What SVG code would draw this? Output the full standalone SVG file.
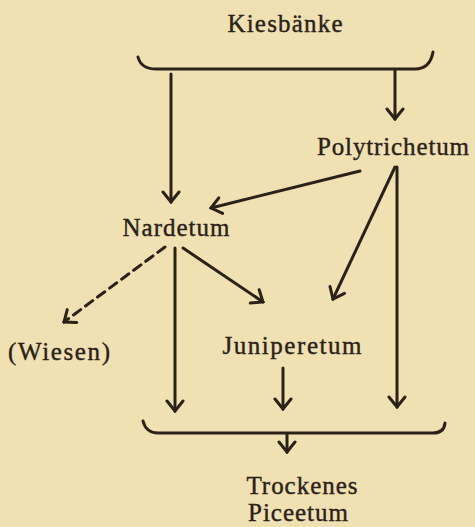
<svg xmlns="http://www.w3.org/2000/svg" width="475" height="527" viewBox="0 0 475 527">
<style>
text{font-family:"Liberation Serif","Times New Roman",serif;font-size:25px;fill:#2a2219;stroke:#2a2219;stroke-width:0.4;text-anchor:middle}
.c{fill:none;stroke:#2a2219;stroke-width:3;stroke-linecap:round}
.d{stroke-dasharray:9,6}
</style>
<defs>
<marker id="ah" viewBox="-12 -10 14 20" markerWidth="14" markerHeight="20" refX="0" refY="0" orient="auto" markerUnits="userSpaceOnUse">
<path d="M-10,-8 L0,0 L-10,8" fill="none" stroke="#2a2219" stroke-width="3" stroke-linecap="round" stroke-linejoin="miter"/>
</marker>
</defs>
<rect width="475" height="527" fill="#f0e1b3"/>
<g id="kiesbaenke"><text x="285" y="32" textLength="115" lengthAdjust="spacing">Kiesbänke</text></g>
<g id="polytrichetum"><text x="393" y="155" textLength="152" lengthAdjust="spacing">Polytrichetum</text></g>
<g id="nardetum"><text x="176" y="236" textLength="107" lengthAdjust="spacing">Nardetum</text></g>
<g id="wiesen"><text x="59" y="360" textLength="102" lengthAdjust="spacing">(Wiesen)</text></g>
<g id="juniperetum"><text x="292" y="354" textLength="139" lengthAdjust="spacing">Juniperetum</text></g>
<g id="trockenes-piceetum"><text x="302" y="494" textLength="111" lengthAdjust="spacing">Trockenes</text><text x="298" y="521" textLength="100" lengthAdjust="spacing">Piceetum</text></g>
<g id="connectors">
<path class="c" d="M138,57 Q141,69 156,69 L415,69 Q430,69 433,52"/>
<path class="c" d="M171,74 L171,202" marker-end="url(#ah)"/>
<path class="c" d="M395,70 L395,119" marker-end="url(#ah)"/>
<path class="c" d="M360,171 L211,208" marker-end="url(#ah)"/>
<path class="c" d="M395,167 L333,299" marker-end="url(#ah)"/>
<path class="c" d="M397,167 L397,407" marker-end="url(#ah)"/>
<path class="c" d="M175,248 L175,411" marker-end="url(#ah)"/>
<path class="c" d="M183,248 L263,302" marker-end="url(#ah)"/>
<path class="c d" d="M165,247 L64,322" marker-end="url(#ah)"/>
<path class="c" d="M283,368 L283,409" marker-end="url(#ah)"/>
<path class="c" d="M143,421 Q146,433 158,433 L433,433 Q444,433 445,423"/>
<path class="c" d="M287,434 L287,452" marker-end="url(#ah)"/>
</g>
</svg>
